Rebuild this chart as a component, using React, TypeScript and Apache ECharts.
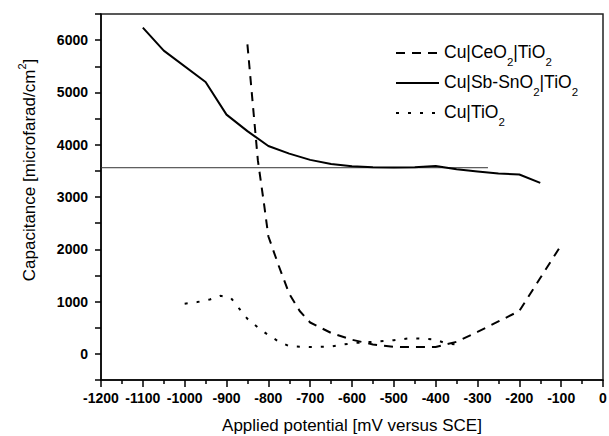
import React, { useEffect, useRef } from "react";
import * as echarts from "echarts";

const seriesNames = ["Cu|CeO2|TiO2", "Cu|Sb-SnO2|TiO2", "Cu|TiO2"];

const ceo2Data: [number, number][] = [
  [-850, 5920], [-825, 3700], [-810, 2850], [-800, 2250], [-775, 1680],
  [-750, 1150], [-725, 820], [-700, 600], [-650, 400], [-600, 270],
  [-550, 180], [-500, 135], [-450, 130], [-400, 130], [-350, 230],
  [-300, 420], [-250, 620], [-200, 820], [-150, 1450], [-100, 2080],
];

const sbsnData: [number, number][] = [
  [-1100, 6240], [-1050, 5800], [-950, 5200], [-900, 4575], [-850, 4260],
  [-800, 3975], [-750, 3830], [-700, 3710], [-650, 3630], [-600, 3590],
  [-550, 3570], [-500, 3565], [-450, 3570], [-400, 3595], [-350, 3530],
  [-300, 3490], [-250, 3450], [-200, 3430], [-150, 3270],
];

const tio2Data: [number, number][] = [
  [-1000, 960], [-970, 990], [-940, 1040], [-915, 1110], [-890, 1075],
  [-870, 870], [-850, 670], [-825, 505], [-800, 360], [-775, 235],
  [-750, 145], [-700, 130], [-650, 140], [-620, 180], [-590, 210],
  [-550, 230], [-500, 260], [-460, 300], [-420, 285], [-400, 270],
  [-375, 200], [-355, 185],
];

const refLineData: [number, number][] = [
  [-1200, 3560], [-275, 3560],
];

const xMin = -1200, xMax = 0, xInterval = 100;
const yMin = -500, yMax = 6500, yInterval = 500;

const legendRich: Record<string, string> = {
  "Cu|CeO2|TiO2": "{a|Cu|CeO}{s|2}{a||TiO}{s|2}",
  "Cu|Sb-SnO2|TiO2": "{a|Cu|Sb-SnO}{s|2}{a||TiO}{s|2}",
  "Cu|TiO2": "{a|Cu|TiO}{s|2}",
};

export default function App() {
  const ref = useRef<HTMLDivElement>(null);
  useEffect(() => {
    if (!ref.current) return;
    const chart = echarts.init(ref.current, undefined, { renderer: "svg" });
    const font = "Arial, 'Liberation Sans', sans-serif";
    const mkLine = (name: string, data: [number, number][], type: any, width = 2) => ({
      name,
      type: "line",
      data,
      symbol: "none",
      showSymbol: false,
      lineStyle: { color: "#000", width, type },
      itemStyle: { color: "#000" },
      z: 3,
    });
    chart.setOption({
      animation: false,
      backgroundColor: "#fff",
      grid: {
        left: 101, right: 6, top: 14, bottom: 56,
        containLabel: false,
        outerBoundsMode: "none",
        show: true, borderColor: "#222", borderWidth: 1.5, backgroundColor: "transparent",
      },
      legend: {
        data: seriesNames,
        orient: "vertical",
        left: 390,
        top: 38,
        itemWidth: 43,
        itemHeight: 14,
        itemGap: 5,
        itemStyle: { opacity: 0 },
        formatter: (n: string) => legendRich[n] || n,
        textStyle: {
          fontFamily: font,
          color: "#000",
          rich: {
            a: { fontSize: 17.5, fontFamily: font, color: "#000", lineHeight: 20, verticalAlign: "top" },
            s: { fontSize: 11.5, fontFamily: font, color: "#000", lineHeight: 11, padding: [13, 0, 0, 0], verticalAlign: "top" },
          },
        },
      },
      xAxis: {
        type: "value",
        min: xMin, max: xMax, interval: xInterval,
        name: "Applied potential [mV versus SCE]",
        nameLocation: "middle",
        nameGap: 36,
        nameMoveOverlap: false,
        nameTextStyle: { fontSize: 17, fontFamily: font, color: "#000", lineHeight: 19 },
        axisLine: { show: true, onZero: false, lineStyle: { color: "#000", width: 1.5 } },
        axisTick: { show: true, length: 7, lineStyle: { color: "#000", width: 1.5 } },
        minorTick: { show: true, splitNumber: 2, length: 4, lineStyle: { color: "#000", width: 1.5 } },
        splitLine: { show: false },
        axisLabel: {
          fontSize: 14, fontWeight: "bold", fontFamily: font, color: "#000", margin: 11,
          formatter: (v: number) => String(v),
        },
      },
      yAxis: {
        type: "value",
        min: yMin, max: yMax, interval: yInterval,
        name: "{a|Capacitance [microfarad/cm}{p|2}{a|]}",
        nameLocation: "middle",
        nameGap: 63,
        nameRotate: 90,
        nameMoveOverlap: false,
        nameTextStyle: {
          fontSize: 17, fontFamily: font, color: "#000",
          padding: [0, 0, 0, 54],
          rich: {
            a: { fontSize: 17, fontFamily: font, color: "#000", lineHeight: 22, verticalAlign: "bottom" },
            p: { fontSize: 11, fontFamily: font, color: "#000", lineHeight: 11, padding: [0, 0, 10, 0], verticalAlign: "top" },
          },
        },
        axisLine: { show: true, onZero: false, lineStyle: { color: "#000", width: 1.5 } },
        axisTick: { show: true, length: 6, lineStyle: { color: "#000", width: 1.5 } },
        splitLine: { show: false },
        axisLabel: {
          fontSize: 14, fontWeight: "bold", fontFamily: font, color: "#000", margin: 13,
          formatter: (v: number) => (v % 1000 === 0 && v >= 0 && v <= 6000 ? String(v) : ""),
        },
      },
      series: [
        mkLine(seriesNames[0], ceo2Data, [9, 7]),
        mkLine(seriesNames[1], sbsnData, "solid"),
        mkLine(seriesNames[2], tio2Data, [3, 9]),
        {
          name: "ref",
          type: "line",
          data: refLineData,
          symbol: "none",
          lineStyle: { color: "#333", width: 1 },
          z: 2,
          silent: true,
        },
      ],
    });
    return () => chart.dispose();
  }, []);
  return (
    <div
      ref={ref}
      style={{ position: "absolute", left: 0, top: 0, width: 609, height: 436 }}
    />
  );
}
